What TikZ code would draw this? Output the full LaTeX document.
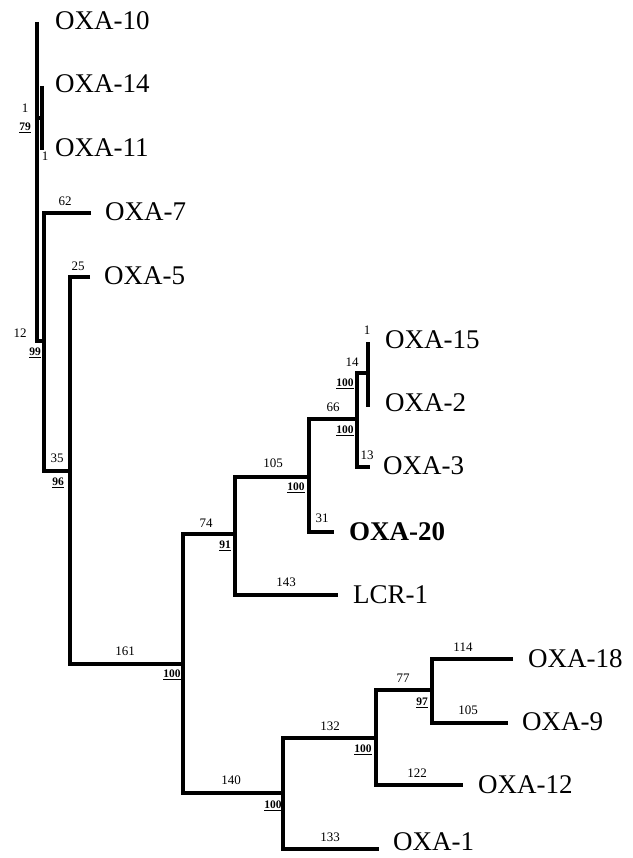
\documentclass[tikz,border=0pt]{standalone}
\usepackage{fontspec}
\setmainfont{Liberation Serif}
\begin{document}
\begin{tikzpicture}[x=1pt,y=-1pt,
  br/.style={line width=3.2pt,line join=miter},
  leaf/.style={anchor=west,inner sep=0pt,font=\fontsize{27}{29}\selectfont},
  bl/.style={inner sep=0pt,font=\fontsize{13}{14}\selectfont},
  bs/.style={inner sep=0pt,font=\fontsize{11.5}{13}\selectfont\bfseries}]
\useasboundingbox (0,0) rectangle (632,858);
% tips
\coordinate (tip10) at (37,22);
\coordinate (tip14) at (42,86);
\coordinate (tip11) at (42,150);
\coordinate (tip7) at (91,213);
\coordinate (tip5) at (90,277);
\coordinate (tip15) at (368,342);
\coordinate (tip2) at (368,407);
\coordinate (tip3) at (370,467);
\coordinate (tip20) at (334,532);
\coordinate (tipL) at (338,595);
\coordinate (tip18) at (513,659);
\coordinate (tip9) at (508,723);
\coordinate (tip12) at (463,785);
\coordinate (tip1) at (379,849);
% internal
\coordinate (j79) at (37,118);
\coordinate (j99) at (37,341);
\coordinate (k99) at (44,341);
\coordinate (j96) at (44,471);
\coordinate (k96) at (70,471);
\coordinate (j100a) at (70,664);
\coordinate (j100b) at (183,664);
\coordinate (n74) at (235,534);
\coordinate (n105) at (309,477);
\coordinate (n66) at (357,419);
\coordinate (n14) at (368,373);
\coordinate (n140) at (283,793);
\coordinate (n132) at (376,738);
\coordinate (n77) at (432,690);
% branches
\draw[br] (tip10) -- (j99) -- (k99);
\draw[br] (j79) -- (j79 -| tip14);
\draw[br] (tip14) -- (tip11);
\draw[br] (tip7) -| (j96) -- (k96);
\draw[br] (tip5) -| (j100a) -- (j100b);
\draw[br] (n74) -| (j100b) |- (n140);
\draw[br] (n105) -| (n74) |- (tipL);
\draw[br] (n66) -| (n105) |- (tip20);
\draw[br] (n14) -| (n66) |- (tip3);
\draw[br] (tip15) -- (tip2);
\draw[br] (n132) -| (n140) |- (tip1);
\draw[br] (n77) -| (n132) |- (tip12);
\draw[br] (tip18) -| (n77) |- (tip9);
% leaf labels
\node[leaf] (L10) at (55,21) {OXA-10};
\node[leaf] (L14) at (55,84) {OXA-14};
\node[leaf] (L11) at (55,148) {OXA-11};
\node[leaf] (L7) at (105,212) {OXA-7};
\node[leaf] (L5) at (104,276) {OXA-5};
\node[leaf] (L15) at (385,340) {OXA-15};
\node[leaf] (L2) at (385,403) {OXA-2};
\node[leaf] (L3) at (383,466) {OXA-3};
\node[leaf,font=\fontsize{27}{29}\selectfont\bfseries] (L20) at (349,532) {OXA-20};
\node[leaf] (LL) at (353,595) {LCR-1};
\node[leaf] (L18) at (528,659) {OXA-18};
\node[leaf] (L9) at (522,722) {OXA-9};
\node[leaf] (L12) at (478,785) {OXA-12};
\node[leaf] (L1) at (393,842) {OXA-1};
% branch lengths
\node[bl] (b1) at (25,108) {1};
\node[bl] (b2) at (45,156) {1};
\node[bl] (b3) at (65,201) {62};
\node[bl] (b4) at (78,266) {25};
\node[bl] (b5) at (20,333) {12};
\node[bl] (b6) at (57,458) {35};
\node[bl] (b7) at (125,651) {161};
\node[bl] (b8) at (206,523) {74};
\node[bl] (b9) at (286,582) {143};
\node[bl] (b10) at (273,463) {105};
\node[bl] (b11) at (322,518) {31};
\node[bl] (b12) at (333,407) {66};
\node[bl] (b13) at (367,455) {13};
\node[bl] (b14) at (352,362) {14};
\node[bl] (b15) at (367,330) {1};
\node[bl] (b16) at (231,780) {140};
\node[bl] (b17) at (330,837) {133};
\node[bl] (b18) at (330,726) {132};
\node[bl] (b19) at (417,773) {122};
\node[bl] (b20) at (403,678) {77};
\node[bl] (b21) at (463,647) {114};
\node[bl] (b22) at (468,710) {105};
% bootstrap
\node[bs] (s1) at (25,128) {\underline{79}};
\node[bs] (s2) at (35,353) {\underline{99}};
\node[bs] (s3) at (58,483) {\underline{96}};
\node[bs] (s4) at (172,675) {\underline{100}};
\node[bs] (s5) at (225,546) {\underline{91}};
\node[bs] (s6) at (296,488) {\underline{100}};
\node[bs] (s7) at (345,431) {\underline{100}};
\node[bs] (s8) at (345,384) {\underline{100}};
\node[bs] (s9) at (273,806) {\underline{100}};
\node[bs] (s10) at (363,750) {\underline{100}};
\node[bs] (s11) at (422,703) {\underline{97}};
\end{tikzpicture}
\end{document}
